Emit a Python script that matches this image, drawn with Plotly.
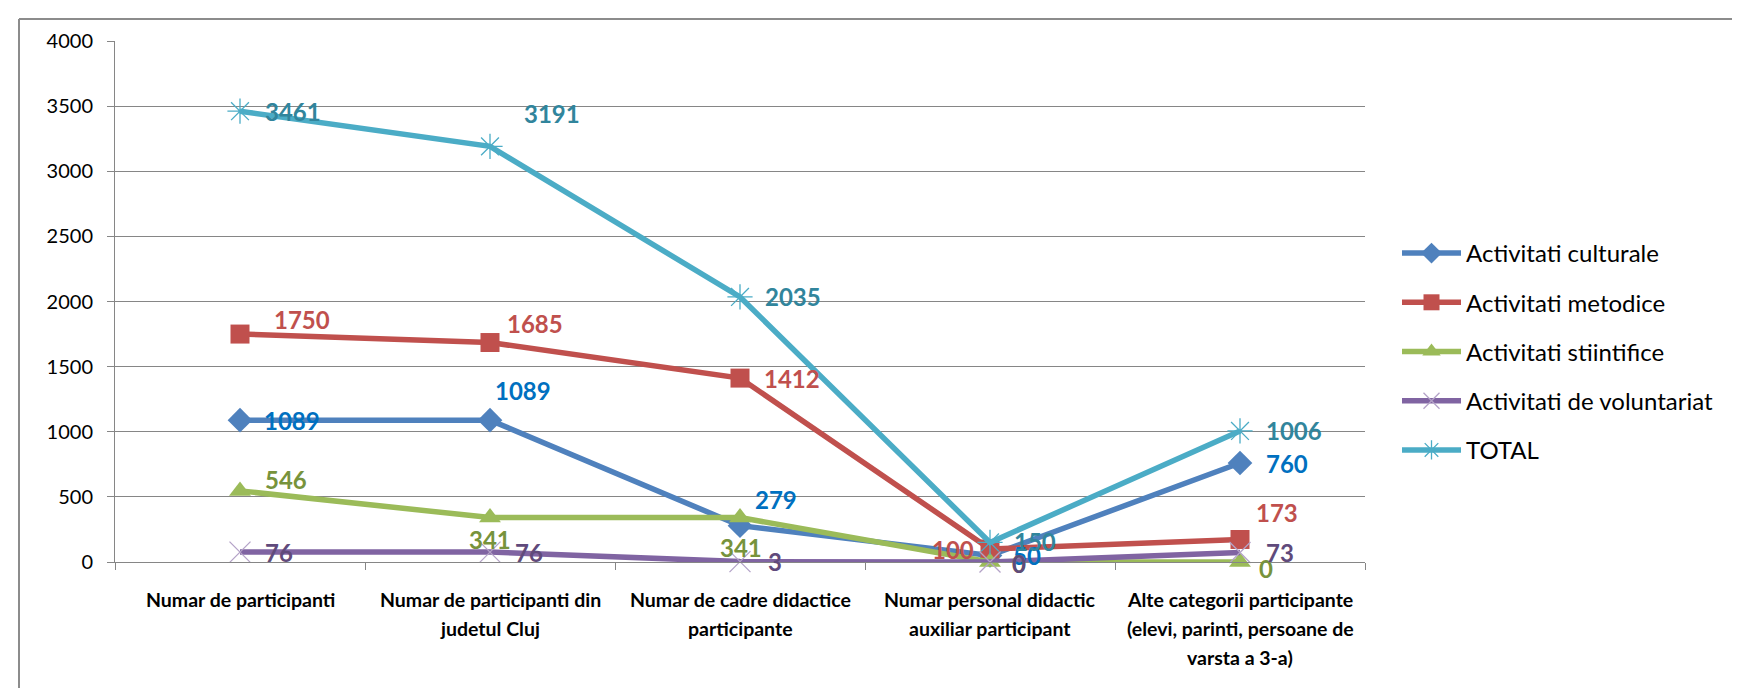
import plotly.graph_objects as go

categories = [
    "Numar de participanti",
    "Numar de participanti din<br>judetul Cluj",
    "Numar de cadre didactice<br>participante",
    "Numar personal didactic<br>auxiliar participant",
    "Alte categorii participante<br>(elevi, parinti, persoane de<br>varsta a 3-a)",
]
series_names = [
    "Activitati culturale",
    "Activitati metodice",
    "Activitati stiintifice",
    "Activitati de voluntariat",
    "TOTAL",
]
culturale = [1089, 1089, 279, 50, 760]
metodice = [1750, 1685, 1412, 100, 173]
stiintifice = [546, 341, 341, 0, 0]
voluntariat = [76, 76, 3, 0, 73]
total = [3461, 3191, 2035, 150, 1006]
y_ticks = [0, 500, 1000, 1500, 2000, 2500, 3000, 3500, 4000]

values = [culturale, metodice, stiintifice, voluntariat, total]

# ---- styling ----
W, H = 1740, 688
ML, PW, MT, PH = 107, 1250, 33, 521
MR, MB = W - ML - PW, H - MT - PH
FONT = "Lato"
line_colors = ["#4F81BD", "#C0504D", "#9BBB59", "#8064A2", "#4BACC6"]
label_colors = ["#0070C0", "#C0504D", "#77933C", "#604A7B", "#31859C"]
symbols = ["diamond", "square", "triangle-up", "x-thin-open", "asterisk-open"]
marker_sizes = [19, 19, 19, 21, 21]
marker_colors = ["#4F81BD", "#C0504D", "#9BBB59", "#B3A2C7", "#4BACC6"]

# label placement: (anchor, xshift, yshift)
label_pos = [
    [("l", 22, 0), ("l", 3, 30), ("l", 13, 26), ("l", 21, 0), ("l", 24, 0)],
    [("l", 32, 15), ("l", 15, 19), ("l", 22, 0), ("r", -14, -1), ("l", 14, 27)],
    [("l", 23, 11), ("c", 0, -22), ("c", 1, -30), ("l", 20, -1), ("l", 17, -6)],
    [("l", 23, 0), ("l", 23, 0), ("l", 26, 0), ("l", 20, -1), ("l", 24, 0)],
    [("l", 23, 0), ("l", 32, 33), ("l", 23, 0), ("l", 22, 1), ("l", 24, 0)],
]
xlabel_first, xlabel_step = 37, 29


def px(xp):
    return (xp - ML) / PW


def py(yp):
    return (H - MB - yp) / PH


fig = go.Figure()
for i, (name, vals) in enumerate(zip(series_names, values)):
    is_open = symbols[i].endswith("open")
    fig.add_trace(go.Scatter(
        x=categories, y=vals, name=name, mode="lines+markers",
        legendgroup=name,
        line=dict(color=line_colors[i], width=5.5),
        marker=dict(symbol=symbols[i], size=marker_sizes[i],
                    color=marker_colors[i],
                    line=dict(color=marker_colors[i], width=1.3 if is_open else 0)),
        cliponaxis=False,
    ))

annotations = []
# category labels (one annotation per text line, for Excel-like line spacing)
for cat in categories:
    for k, part in enumerate(cat.split("<br>")):
        annotations.append(dict(
            x=cat, y=0, xref="x", yref="paper", text=f"<b>{part}</b>",
            showarrow=False, xanchor="center", yanchor="middle",
            yshift=-(xlabel_first + xlabel_step * k),
            font=dict(family=FONT, size=19.5, color="#000000"),
        ))
# data labels
for i, vals in enumerate(values):
    for j, v in enumerate(vals):
        a, dx, dy = label_pos[i][j]
        annotations.append(dict(
            x=categories[j], y=v, xref="x", yref="y", text=f"<b>{v}</b>",
            showarrow=False, xanchor={"l": "left", "c": "center", "r": "right"}[a],
            yanchor="middle", xshift=dx, yshift=dy,
            font=dict(family=FONT, size=24, color=label_colors[i]),
        ))

shapes = [
    dict(type="line", xref="paper", yref="paper", x0=px(11), x1=px(W + 5),
         y0=py(11), y1=py(11), line=dict(color="#8C8C8C", width=2)),
    dict(type="line", xref="paper", yref="paper", x0=px(11), x1=px(11),
         y0=py(11), y1=py(H + 5), line=dict(color="#8C8C8C", width=2)),
]

fig.update_layout(
    width=W, height=H,
    margin=dict(l=ML, r=MR, t=MT, b=MB),
    paper_bgcolor="white", plot_bgcolor="white",
    font=dict(family=FONT, color="#000000"),
    showlegend=True,
    legend=dict(
        x=px(1389), y=py(223), xanchor="left", yanchor="top",
        font=dict(family=FONT, size=24, color="#000000"),
        tracegroupgap=15, itemwidth=59,
        bgcolor="rgba(0,0,0,0)",
    ),
    xaxis=dict(
        type="category", range=[-0.5, 4.5],
        showline=True, linecolor="#868686", linewidth=1,
        ticks="outside", tickson="boundaries", ticklen=7, tickcolor="#868686",
        showgrid=False, zeroline=False, showticklabels=False,
    ),
    yaxis=dict(
        range=[0, 4000], tickvals=y_ticks, ticktext=[str(t) for t in y_ticks],
        showline=True, linecolor="#868686", linewidth=1,
        ticks="outside", ticklen=7, tickcolor="#868686",
        showgrid=True, gridcolor="#868686", gridwidth=1,
        zeroline=False,
        tickfont=dict(family=FONT, size=20, color="#000000"),
        ticklabelstandoff=10,
    ),
    annotations=annotations,
    shapes=shapes,
)

fig.write_html("out.html")
